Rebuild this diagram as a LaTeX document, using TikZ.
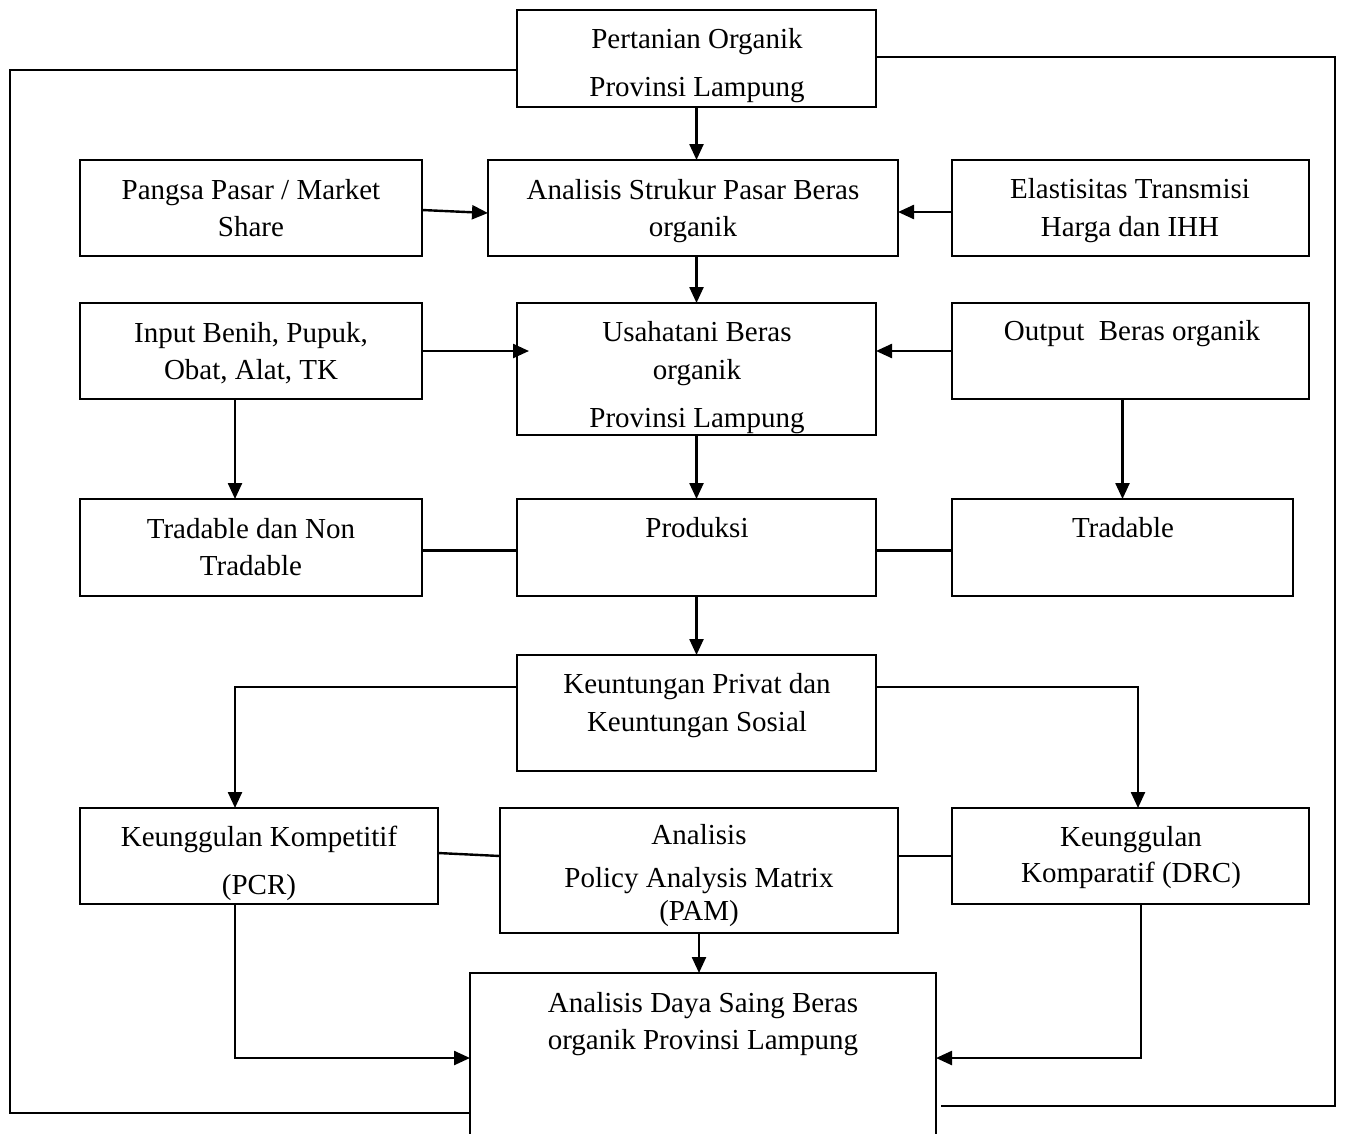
\documentclass[tikz,border=0pt]{standalone}
\usepackage{fontspec}
\setmainfont{Liberation Serif}
\usetikzlibrary{arrows.meta}
\newcommand\bx[5]{\node[box,minimum width=#4pt-#2pt,minimum height=#5pt-#3pt] (#1) at ({(#2+#4)/2},{(#3+#5)/2}) {};}
\newcommand\tx[4]{\node[txt] (#1) at (#2,#3) {#4};}
\tikzset{
  box/.style={draw, line width=2.6pt, inner sep=0pt, outer sep=0pt},
  txt/.style={font=\fontsize{29pt}{35pt}\selectfont, inner sep=0pt, anchor=base},
  conn/.style={line width=2.4pt},
  arr/.style={conn, -{Triangle[length=16pt,width=14pt]}},
  fb/.style={line width=2.2pt}
}
\begin{document}
\begin{tikzpicture}[x=1pt,y=-1pt]
\path[use as bounding box] (0,0) rectangle (1347,1133);
% boxes
\bx{top}{517}{10}{876}{107}
\bx{pangsa}{80}{160}{422}{256}
\bx{struk}{488}{160}{898}{256}
\bx{elast}{952}{160}{1309}{256}
\bx{input}{80}{303}{422}{399}
\bx{usaha}{517}{303}{876}{435}
\bx{output}{952}{303}{1309}{399}
\bx{trnon}{80}{499}{422}{596}
\bx{prod}{517}{499}{876}{596}
\bx{trad}{952}{499}{1293}{596}
\bx{untung}{517}{655}{876}{771}
\bx{kompet}{80}{808}{438}{904}
\bx{pam}{500}{808}{898}{933}
\bx{kompar}{952}{808}{1309}{904}
\bx{daya}{470}{973}{936}{1143}
% texts
\tx{top1}{697}{48}{Pertanian Organik}
\tx{top2}{697}{96}{Provinsi Lampung}
\tx{pangsa1}{251}{199}{Pangsa Pasar / Market}
\tx{pangsa2}{251}{236}{Share}
\tx{struk1}{693}{199}{Analisis Strukur Pasar Beras}
\tx{struk2}{693}{236}{organik}
\tx{elast1}{1130}{198}{Elastisitas Transmisi}
\tx{elast2}{1130}{236}{Harga dan IHH}
\tx{input1}{251}{342}{Input Benih, Pupuk,}
\tx{input2}{251}{379}{Obat, Alat, TK}
\tx{usaha1}{697}{341}{Usahatani Beras}
\tx{usaha2}{697}{379}{organik}
\tx{usaha3}{697}{427}{Provinsi Lampung}
\tx{output1}{1132}{340}{Output\ \ Beras organik}
\tx{trnon1}{251}{538}{Tradable dan Non}
\tx{trnon2}{251}{575}{Tradable}
\tx{prod1}{697}{537}{Produksi}
\tx{trad1}{1123}{537}{Tradable}
\tx{untung1}{697}{693}{Keuntungan Privat dan}
\tx{untung2}{697}{731}{Keuntungan Sosial}
\tx{kompet1}{259}{846}{Keunggulan Kompetitif}
\tx{kompet2}{259}{894}{(PCR)}
\tx{pam1}{699}{844}{Analisis}
\tx{pam2}{699}{887}{Policy Analysis Matrix}
\tx{pam3}{699}{920}{(PAM)}
\tx{kompar1}{1131}{846}{Keunggulan}
\tx{kompar2}{1131}{882}{Komparatif (DRC)}
\tx{daya1}{703}{1012}{Analisis Daya Saing Beras}
\tx{daya2}{703}{1049}{organik Provinsi Lampung}
% arrows
\draw[arr] (top.south) -- (top.south |- struk.north);
\draw[arr] ([yshift=-2pt]pangsa.east) -- ([yshift=-5pt]struk.west);
\draw[arr] ([yshift=-4pt]elast.west) -- ([yshift=-4pt]struk.east);
\draw[arr] (usaha.north |- struk.south) -- (usaha.north);
\draw[arr] (input.east) -- ([xshift=12pt]usaha.west |- input.east);
\draw[arr] (output.west) -- (usaha.east |- output.west);
\draw[arr] ([xshift=-16pt]input.south) -- ([xshift=-16pt]trnon.north);
\draw[arr] (output.south -| trad.north) -- (trad.north);
\draw[arr] (usaha.south) -- (prod.north);
\draw[conn] ([yshift=-3pt]trnon.east) -- ([yshift=-3pt]prod.west);
\draw[conn] ([yshift=-3pt]prod.east) -- ([yshift=-3pt]trad.west);
\draw[arr] (prod.south) -- (untung.north);
\draw[arr] ([yshift=26pt]untung.west) -| ([xshift=-24pt]kompet.north);
\draw[arr] ([yshift=26pt]untung.east) -| ([xshift=7.5pt]kompar.north);
\draw[conn] ([yshift=3pt]kompet.east) -- ([yshift=14.5pt]pam.west);
\draw[conn] ([yshift=14.5pt]pam.east) -- (kompar.west);
\draw[arr] (pam.south) -- (pam.south |- daya.north);
\draw[arr] ([xshift=-24pt]kompet.south) |- (daya.west);
\draw[arr] ([xshift=10.5pt]kompar.south) |- (daya.east);
% feedback lines
\coordinate (fbL) at (10,1113);
\coordinate (fbR) at (1335,1106);
\draw[fb] ([yshift=-11.5pt]top.west) -| (fbL) -- (fbL -| daya.west);
\draw[fb] ([yshift=1.5pt]top.east) -| (fbR) -- ([xshift=5pt]fbR -| daya.east);
\end{tikzpicture}
\end{document}
